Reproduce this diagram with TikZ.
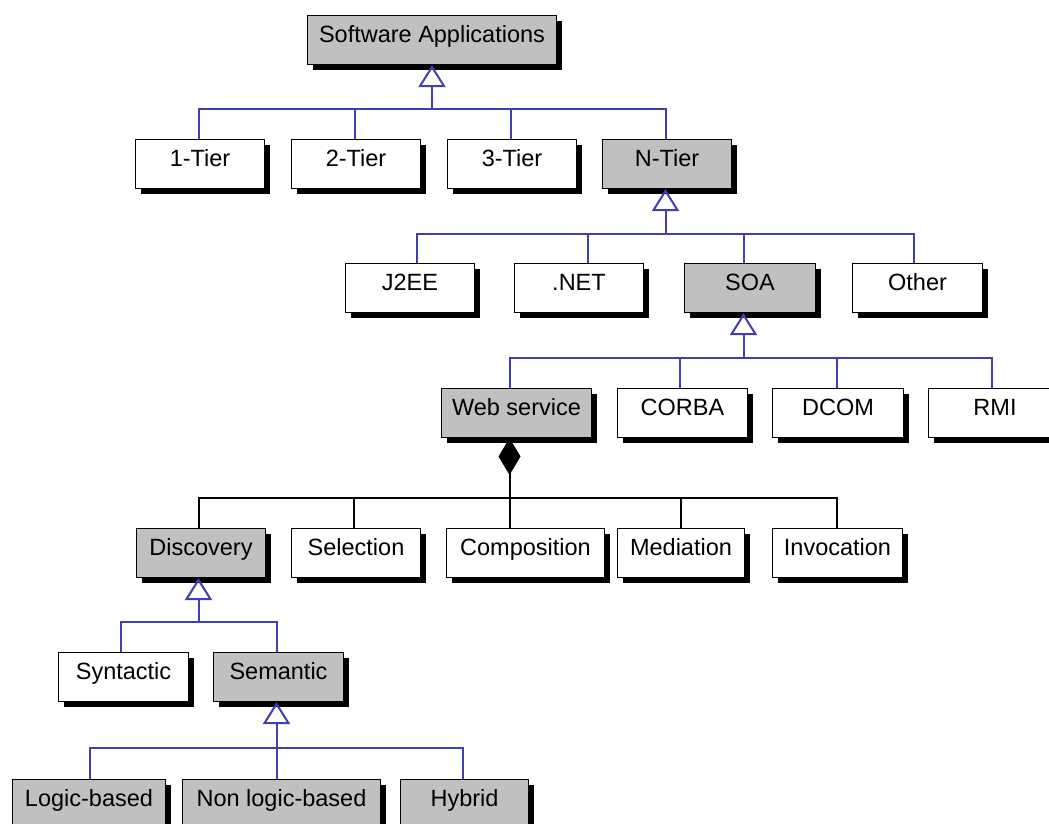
\documentclass[tikz,border=0pt]{standalone}
\usepackage{fontspec}
\setmainfont{Liberation Sans}
\usetikzlibrary{arrows.meta,shadows}
\definecolor{umlblue}{RGB}{64,64,176}
\definecolor{boxgray}{RGB}{192,192,192}
\begin{document}
\begin{tikzpicture}[x=1pt,y=-1pt,
  box/.style={draw=black, line width=1pt, fill=white, minimum height=49pt, inner sep=0pt,
    anchor=north west, text height=17pt, text depth=13pt,
    font=\fontsize{23.5pt}{28pt}\selectfont,
    drop shadow={shadow xshift=5pt, shadow yshift=-5pt, opacity=1, fill=black}},
  gbox/.style={box, fill=boxgray},
  gen/.style={draw=umlblue, line width=2pt},
  genhead/.style={gen, {Triangle[open, length=22pt, width=27pt]}-},
  comp/.style={draw=black, line width=2pt},
  comphead/.style={comp, {Diamond[length=37pt, width=22pt]}-},
]
\fill[white] (0,0) rectangle (1049,823);
\useasboundingbox (0,0) rectangle (1049,823);
\clip (0,0) rectangle (1049,823);

% row 0
\node[gbox, minimum width=249pt] (sa) at (307,15) {Software Applications};
% row 1
\node[box,  minimum width=129pt] (t1) at (135,139) {1-Tier};
\node[box,  minimum width=129pt] (t2) at (291,139) {2-Tier};
\node[box,  minimum width=129pt] (t3) at (447,139) {3-Tier};
\node[gbox, minimum width=129pt] (tn) at (602,139) {N-Tier};
% row 2
\node[box,  minimum width=129pt] (j2ee)  at (345,263) {J2EE};
\node[box,  minimum width=129pt] (net)   at (514,263) {.NET};
\node[gbox, minimum width=131pt] (soa)   at (684,263) {SOA};
\node[box,  minimum width=130pt] (other) at (852,263) {Other};
% row 3
\node[gbox, minimum width=150pt] (ws)    at (441,388) {Web service};
\node[box,  minimum width=130pt] (corba) at (617,388) {CORBA};
\node[box,  minimum width=131pt] (dcom)  at (772,388) {DCOM};
\node[box,  minimum width=133pt] (rmi)   at (928,388) {RMI};
% row 4
\node[gbox, minimum width=129pt] (disc) at (136,528) {Discovery};
\node[box,  minimum width=129pt] (sel)  at (291,528) {Selection};
\node[box,  minimum width=158pt] (comp) at (446,528) {Composition};
\node[box,  minimum width=127pt] (med)  at (617,528) {Mediation};
\node[box,  minimum width=130pt] (inv)  at (772,528) {Invocation};
% row 5
\node[box,  minimum width=130pt] (syn) at (58,652)  {Syntactic};
\node[gbox, minimum width=130pt] (sem) at (213,652) {Semantic};
% row 6
\node[gbox, minimum width=153pt] (logic)    at (12,779)  {Logic-based};
\node[gbox, minimum width=198pt] (nonlogic) at (182,779) {Non logic-based};
\node[gbox, minimum width=128pt] (hybrid)   at (400,779) {Hybrid};

% ports
\coordinate (sa-b)  at (sa.south);
\coordinate (t1-t)  at ([xshift=-1.5pt]t1.north);
\coordinate (t2-t)  at ([xshift=-1.5pt]t2.north);
\coordinate (t3-t)  at ([xshift=-1.5pt]t3.north);
\coordinate (tn-t)  at ([xshift=-1.5pt]tn.north);
\coordinate (tn-b)  at ([xshift=-1.5pt]tn.south);
\coordinate (j2ee-t)  at ([xshift=6.5pt]j2ee.north);
\coordinate (net-t)   at ([xshift=8.5pt]net.north);
\coordinate (soa-t)   at ([xshift=-6.5pt]soa.north);
\coordinate (soa-b)   at ([xshift=-6.5pt]soa.south);
\coordinate (other-t) at ([xshift=-4pt]other.north);
\coordinate (ws-t)    at ([xshift=-7pt]ws.north);
\coordinate (ws-b)    at ([xshift=-7pt]ws.south);
\coordinate (corba-t) at ([xshift=-3pt]corba.north);
\coordinate (dcom-t)  at ([xshift=-1.5pt]dcom.north);
\coordinate (rmi-t)   at ([xshift=-3.5pt]rmi.north);
\coordinate (disc-t)  at ([xshift=-2.5pt]disc.north);
\coordinate (disc-b)  at ([xshift=-2.5pt]disc.south);
\coordinate (sel-t)   at ([xshift=-2.5pt]sel.north);
\coordinate (comp-t)  at ([xshift=-16pt]comp.north);
\coordinate (med-t)   at ([xshift=-0.5pt]med.north);
\coordinate (inv-t)   at ([xshift=-1pt]inv.north);
\coordinate (syn-t)   at ([xshift=-3pt]syn.north);
\coordinate (sem-t)   at ([xshift=-2pt]sem.north);
\coordinate (sem-b)   at ([xshift=-2pt]sem.south);
\coordinate (logic-t)    at ([xshift=0.5pt]logic.north);
\coordinate (nonlogic-t) at ([xshift=-5pt]nonlogic.north);
\coordinate (hybrid-t)   at ([xshift=-2pt]hybrid.north);

% Software Applications
\draw[genhead] (sa-b) -- ++(0,44) coordinate (b1);
\draw[gen] (t1-t) -- (t1-t |- b1) -- (tn-t |- b1) -- (tn-t);
\draw[gen] (t2-t) -- (t2-t |- b1);
\draw[gen] (t3-t) -- (t3-t |- b1);

% N-Tier
\draw[genhead] (tn-b) -- ++(0,45) coordinate (b2);
\draw[gen] (j2ee-t) -- (j2ee-t |- b2) -- (other-t |- b2) -- (other-t);
\draw[gen] (net-t) -- (net-t |- b2);
\draw[gen] (soa-t) -- (soa-t |- b2);

% SOA
\draw[genhead] (soa-b) -- ++(0,45) coordinate (b3);
\draw[gen] (ws-t) -- (ws-t |- b3) -- (rmi-t |- b3) -- (rmi-t);
\draw[gen] (corba-t) -- (corba-t |- b3);
\draw[gen] (dcom-t) -- (dcom-t |- b3);

% Web service (composition)
\draw[comphead] (ws-b) -- ++(0,60) coordinate (b4);
\draw[comp] (disc-t) -- (disc-t |- b4) -- (inv-t |- b4) -- (inv-t);
\draw[comp] (sel-t) -- (sel-t |- b4);
\draw[comp] (comp-t) -- (comp-t |- b4);
\draw[comp] (med-t) -- (med-t |- b4);

% Discovery
\draw[genhead] (disc-b) -- ++(0,44) coordinate (b5);
\draw[gen] (syn-t) -- (syn-t |- b5) -- (sem-t |- b5) -- (sem-t);

% Semantic
\draw[genhead] (sem-b) -- ++(0,46) coordinate (b6);
\draw[gen] (logic-t) -- (logic-t |- b6) -- (hybrid-t |- b6) -- (hybrid-t);
\draw[gen] (nonlogic-t) -- (nonlogic-t |- b6);
\end{tikzpicture}
\end{document}
